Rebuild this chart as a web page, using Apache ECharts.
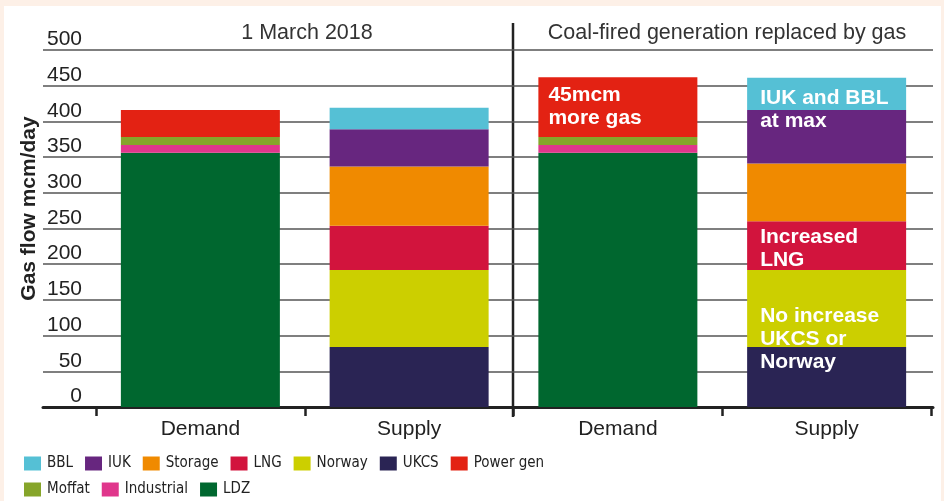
<!DOCTYPE html>
<html>
<head>
<meta charset="utf-8">
<script src="https://cdn.jsdelivr.net/npm/echarts@6/dist/echarts.min.js"></script>
<style>
html, body { margin: 0; padding: 0; background: #fdf0e7; }
#panel { position: absolute; left: 4px; top: 6px; width: 937px; height: 495px; background: #fff; }
#chart { position: absolute; left: 0; top: 0; width: 944px; height: 501px; }
</style>
</head>
<body>
<div id="panel"></div>
<div id="chart"></div>
<script>
// values, mcm/day
const categories = ['Demand', 'Supply', 'Demand', 'Supply']
const panelTitles = ['1 March 2018', 'Coal-fired generation replaced by gas']
const yMin = 0
const yMax = 500
const yStep = 50

// demand side (stacked bottom to top)
const ldz = [356, '-', 356, '-']
const industrial = [11, '-', 11, '-']
const moffat = [11, '-', 11, '-']
const powerGen = [38, '-', 84, '-']
// supply side (stacked bottom to top)
const ukcs = ['-', 84, '-', 84]
const norway = ['-', 108, '-', 108]
const lng = ['-', 62, '-', 68]
const storage = ['-', 83, '-', 81]
const iuk = ['-', 52, '-', 75]
const bbl = ['-', 30, '-', 45]

const legendRow1 = ['BBL', 'IUK', 'Storage', 'LNG', 'Norway', 'UKCS', 'Power gen']
const legendRow2 = ['Moffat', 'Industrial', 'LDZ']

// text written inside the bars: [category index, text]
const notes = {
  'Power gen': [2, '45mcm\nmore gas'],
  'BBL': [3, 'IUK and BBL\nat max'],
  'LNG': [3, 'Increased\nLNG'],
  'Norway': [3, 'No increase\nUKCS or\nNorway']
}

const FONT = "'Liberation Sans', Arial, Helvetica, sans-serif"
const NARROW = "'Liberation Sans Narrow', 'Arial Narrow', 'DejaVu Sans Condensed', sans-serif"

// label offsets, tuned by eye
const noteOffsets = {
  'Power gen': [5, 2],
  'BBL': [8, 4],
  'LNG': [8, -1],
  'Norway': [8, 30]
}

const stackOrder = [
  ['LDZ', ldz, '#00672f'],
  ['Industrial', industrial, '#e0368c'],
  ['Moffat', moffat, '#86a52a'],
  ['Power gen', powerGen, '#e32213'],
  ['UKCS', ukcs, '#2a2454'],
  ['Norway', norway, '#cccf00'],
  ['LNG', lng, '#d2143d'],
  ['Storage', storage, '#f08a00'],
  ['IUK', iuk, '#67267f'],
  ['BBL', bbl, '#55c0d5']
]

function buildData (name, values) {
  return values.map(function (v, i) {
    const note = notes[name]
    if (note && note[0] === i) {
      return {
        value: v,
        label: {
          show: true,
          position: 'insideTopLeft',
          offset: noteOffsets[name],
          formatter: note[1],
          color: '#fff',
          fontWeight: 'bold',
          fontSize: 21,
          lineHeight: 23,
          fontFamily: FONT
        }
      }
    }
    return v
  })
}

const series = stackOrder.map(function (s) {
  return {
    name: s[0],
    type: 'bar',
    xAxisIndex: 1,
    yAxisIndex: 1,
    stack: 'gas',
    barWidth: 159,
    itemStyle: { color: s[2] },
    emphasis: { disabled: true },
    data: buildData(s[0], s[1])
  }
})

const legendBase = {
  left: 24,
  padding: 0,
  itemWidth: 17,
  itemHeight: 14,
  itemGap: 12,
  icon: 'rect',
  selectedMode: false,
  textStyle: { color: '#222', fontSize: 15, fontFamily: NARROW, padding: [0, 0, 0, 1] }
}

const chart = echarts.init(document.getElementById('chart'))
chart.setOption({
  animation: false,
  textStyle: { fontFamily: FONT },
  grid: [
    { left: 43, right: 11, top: 50, bottom: 94 },
    { left: 96, right: 13, top: 50, bottom: 94 }
  ],
  xAxis: [
    {
      gridIndex: 0,
      type: 'value',
      min: 0,
      max: 1,
      axisLine: { show: true, lineStyle: { color: '#222', width: 3 } },
      axisTick: { show: false },
      axisLabel: { show: false },
      splitLine: { show: false }
    },
    {
      gridIndex: 1,
      type: 'category',
      data: categories,
      axisLine: { show: false },
      axisTick: { show: true, length: 9, lineStyle: { color: '#222', width: 2.5 } },
      axisLabel: { color: '#222', fontSize: 21, margin: 12, fontFamily: FONT }
    }
  ],
  yAxis: [
    {
      gridIndex: 0,
      type: 'value',
      min: yMin,
      max: yMax,
      interval: yStep,
      name: 'Gas flow mcm/day',
      nameLocation: 'middle',
      nameRotate: 90,
      nameGap: 3,
      nameMoveOverlap: false,
      nameTextStyle: { color: '#222', fontSize: 21, fontWeight: 'bold', fontFamily: FONT, padding: [0, 0, 0, 40] },
      axisLine: { show: false },
      axisTick: { show: false },
      axisLabel: { color: '#222', fontSize: 21, margin: -39, verticalAlign: 'bottom', fontFamily: FONT },
      splitLine: { lineStyle: { color: '#555', width: 1.5 } }
    },
    {
      gridIndex: 1,
      type: 'value',
      min: yMin,
      max: yMax,
      interval: yStep,
      show: false,
      splitLine: { show: false }
    }
  ],
  legend: [
    Object.assign({}, legendBase, { data: legendRow1, top: 456 }),
    Object.assign({}, legendBase, { data: legendRow2, top: 482 })
  ],
  graphic: [
    {
      type: 'line',
      shape: { x1: 513, y1: 23, x2: 513, y2: 417 },
      style: { stroke: '#222', lineWidth: 2.5 }
    },
    {
      type: 'text',
      x: 307,
      y: 33,
      style: { text: panelTitles[0], align: 'center', verticalAlign: 'middle', fill: '#333', fontSize: 21.5, fontFamily: FONT }
    },
    {
      type: 'text',
      x: 727,
      y: 33,
      style: { text: panelTitles[1], align: 'center', verticalAlign: 'middle', fill: '#333', fontSize: 21.5, fontFamily: FONT }
    }
  ],
  series: series
})
</script>
</body>
</html>
